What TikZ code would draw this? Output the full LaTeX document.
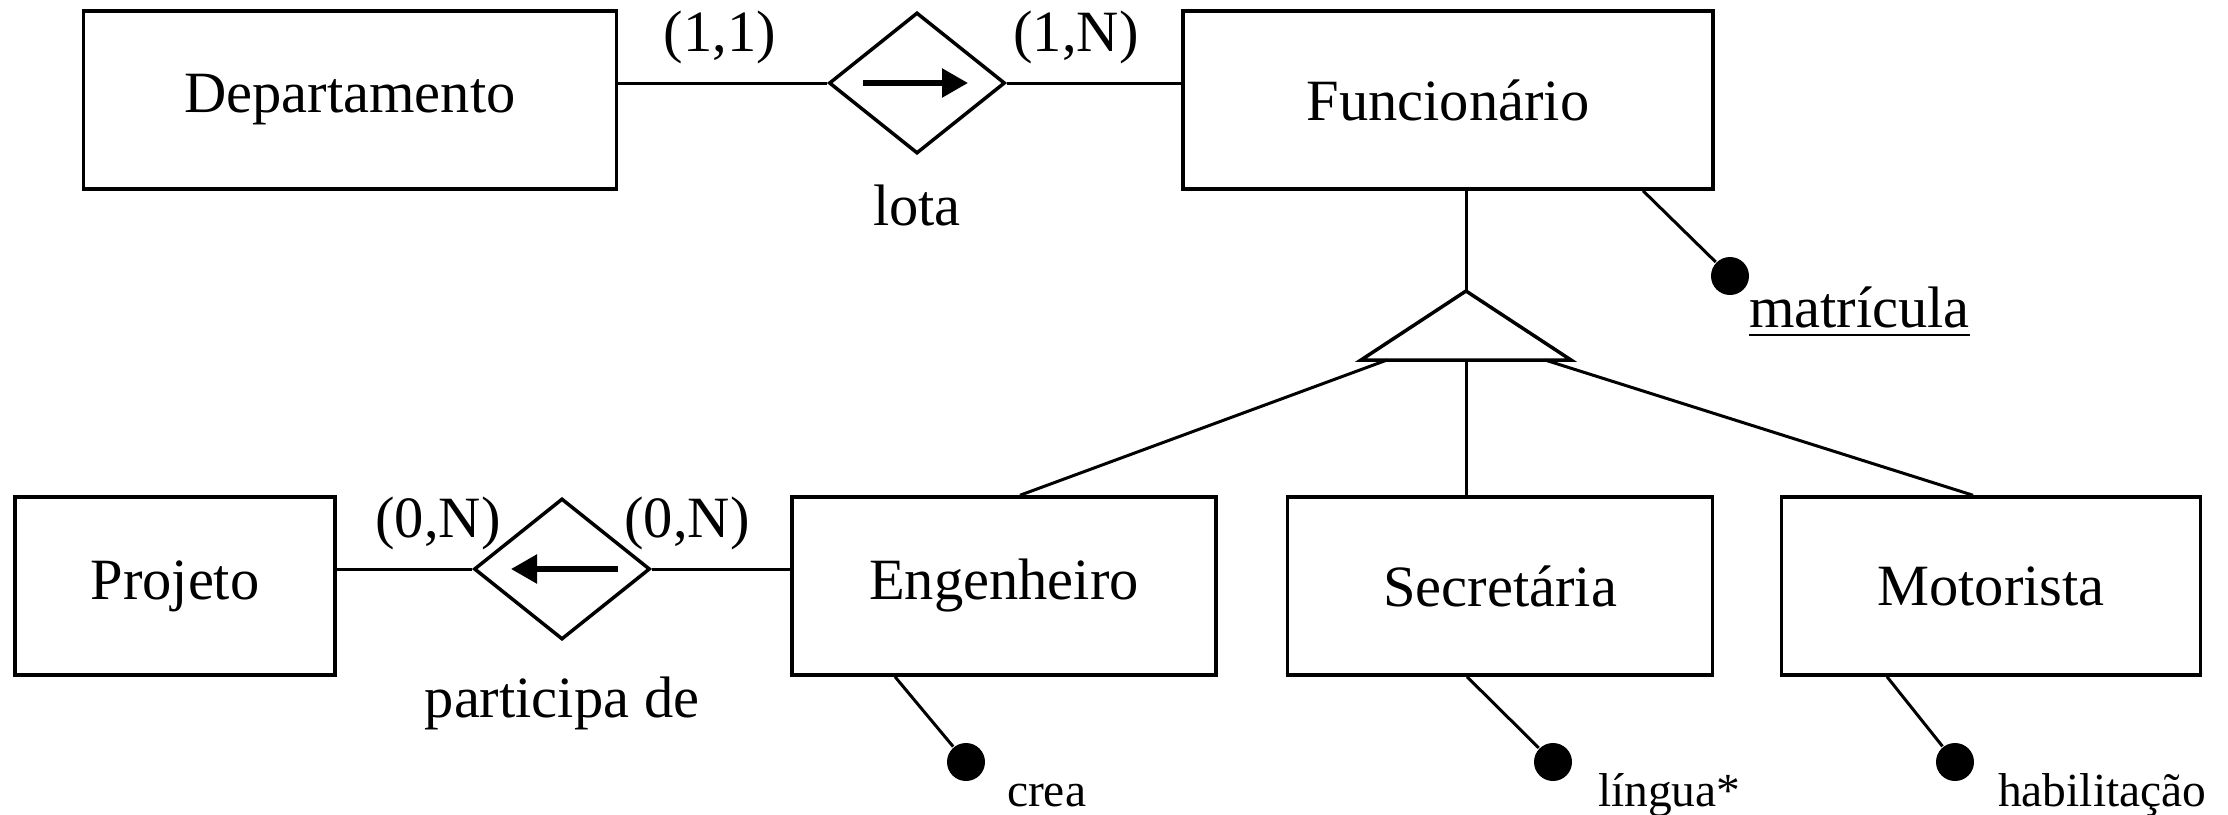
\documentclass[tikz,border=0pt]{standalone}
\usepackage{fontspec}
\setmainfont{Liberation Serif}
\usepackage{tikz}
\usetikzlibrary{arrows.meta,calc,positioning,shapes.geometric}

\begin{document}
\begin{tikzpicture}[x=0.2pt, y=-0.2pt,
font=\fontsize{11.7pt}{14pt}\selectfont,
entitynode/.style={rectangle, draw=black, line width=0.7pt, minimum height=35.6pt, inner sep=0pt},
relnode/.style={diamond, draw=black, line width=0.7pt, minimum width=35.2pt, minimum height=28.2pt, inner sep=0pt},
keynode/.style={circle, fill=black, minimum size=7.6pt, inner sep=0pt},
cardnode/.style={inner sep=0pt},
attrnode/.style={inner sep=0pt, anchor=base west, font=\fontsize{9.5pt}{11pt}\selectfont},
link/.style={line width=0.6pt},
]
\useasboundingbox (0,0) rectangle (2228,814);

%Nodes
\node[entitynode, minimum width=106.6pt] (departamento) at (350,100) {Departamento};
\node[relnode]                           (lota)         at (917,83)  {};
\node[entitynode, minimum width=106pt]   (funcionario)  at (1448,100) {Funcionário};
\node[cardnode] (cardDep)  at (720,37)  {(1,1)};
\node[cardnode] (cardFunc) at (1076,37) {(1,N)};
\node[cardnode] (lotaname) at (917,205) {lota};

\node[entitynode, minimum width=64pt]   (projeto)    at (175,586)  {Projeto};
\node[relnode]                          (participa)  at (562,569)  {};
\node[entitynode, minimum width=84.8pt] (engenheiro) at (1004,586) {Engenheiro};
\node[entitynode, minimum width=85pt]   (secretaria) at (1500,586) {Secretária};
\node[entitynode, minimum width=83.8pt] (motorista)  at (1991,586) {Motorista};
\node[cardnode] (cardProj) at (438,523) {(0,N)};
\node[cardnode] (cardEng)  at (687,523) {(0,N)};
\node[cardnode] (participaname) at (562,703) {participa de};

%Attributes
\node[keynode] (kMatricula) at (1730,276) {};
\node[cardnode, anchor=base west] (matricula) at (1748,327) {\underline{matrícula}};
\node[keynode] (kCrea) at (966,762) {};
\node[attrnode] (crea) at (1006,806) {crea};
\node[keynode] (kLingua) at (1553,762) {};
\node[attrnode] (lingua) at (1597,806) {língua*};
\node[keynode] (kHabil) at (1955,762) {};
\node[attrnode] (habilitacao) at (1997,806) {habilitação};

%Specialization
\coordinate (isaTop)   at (1466,291);
\coordinate (isaLeft)  at (1361,360);
\coordinate (isaRight) at (1571,360);
\coordinate (isaL) at ($(isaLeft)!0.124!(isaRight)$);
\coordinate (isaM) at ($(isaLeft)!0.5!(isaRight)$);
\coordinate (isaR) at ($(isaLeft)!0.876!(isaRight)$);
\draw[line width=0.7pt] (isaTop) -- (isaRight) -- (isaLeft) -- cycle;

%Lines
\draw[link] (departamento.east |- lota.west) -- (lota.west);
\draw[link] (lota.east) -- (lota.east -| funcionario.west);
\draw[link] (projeto.east |- participa.west) -- (participa.west);
\draw[link] (participa.east) -- (participa.east -| engenheiro.west);
\draw[link] (isaTop |- funcionario.south) -- (isaTop);
\draw[link] (isaL) -- ([xshift=3.2pt]engenheiro.north);
\draw[link] (isaM) -- (isaM |- secretaria.north);
\draw[link] (isaR) -- ([xshift=-3.6pt]motorista.north);
\draw[link] ([xshift=39pt]funcionario.south) -- (kMatricula);
\draw[link] ([xshift=-21.8pt]engenheiro.south) -- (kCrea);
\draw[link] ([xshift=-6.6pt]secretaria.south) -- (kLingua);
\draw[link] ([xshift=-20.8pt]motorista.south) -- (kHabil);

%Direction arrows
\draw[-{Triangle[length=5.2pt,width=5.6pt]}, line width=1.1pt] ([xshift=-10.8pt]lota.center) -- ([xshift=10.2pt]lota.center);
\draw[-{Triangle[length=5.2pt,width=5.6pt]}, line width=1.1pt] ([xshift=11.2pt]participa.center) -- ([xshift=-10.2pt]participa.center);
\end{tikzpicture}
\end{document}
